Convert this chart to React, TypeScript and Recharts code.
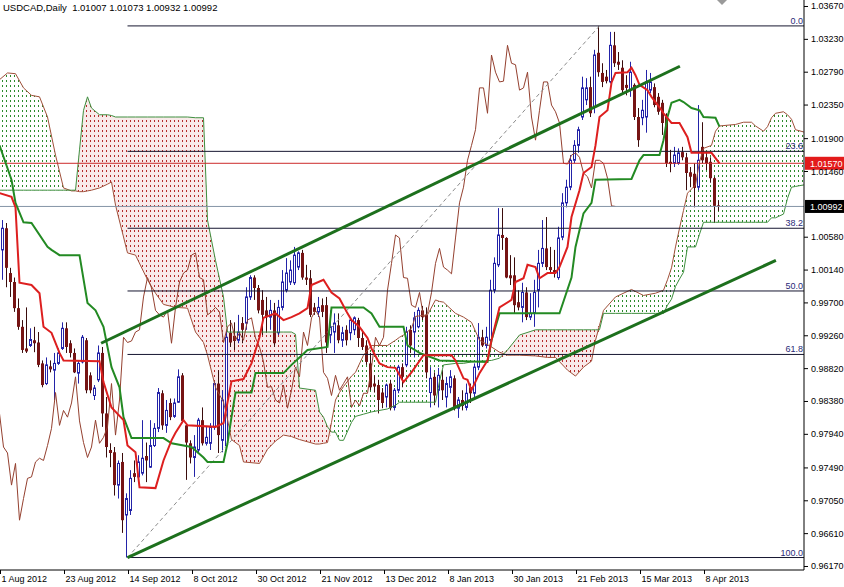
import { Area, Bar, ComposedChart, Line, ReferenceLine, XAxis, YAxis } from 'recharts';

const dateTicks = [0, 16, 32, 48, 64, 80, 96, 112, 128, 144, 160, 176];
const dateLabels = [
  '1 Aug 2012', '23 Aug 2012', '14 Sep 2012', '8 Oct 2012', '30 Oct 2012', '21 Nov 2012',
  '13 Dec 2012', '8 Jan 2013', '30 Jan 2013', '21 Feb 2013', '15 Mar 2013', '8 Apr 2013',
];

const priceTicks = [
  1.0367, 1.0323, 1.0279, 1.0235, 1.019, 1.0146, 1.0058, 1.0014, 0.997, 0.9926, 0.9882, 0.9838,
  0.9794, 0.9749, 0.9705, 0.9661, 0.9617,
];

// daily candles, bar index 0 = 1 Aug 2012
const opens = [
  1.0041, 1.0041, 1.0070, 1.0010, 0.9998, 0.9963, 0.9938, 0.9909, 0.9913, 0.9920,
  0.9917, 0.9889, 0.9862, 0.9885, 0.9880, 0.9889, 0.9909, 0.9936, 0.9916, 0.9903,
  0.9876, 0.9891, 0.9920, 0.9873, 0.9846, 0.9867, 0.9903, 0.9822, 0.9773, 0.9770,
  0.9726, 0.9757, 0.9686, 0.9692, 0.9742, 0.9737, 0.9742, 0.9765, 0.9750, 0.9779,
  0.9802, 0.9849, 0.9806, 0.9836, 0.9818, 0.9837, 0.9873, 0.9806, 0.9782, 0.9763,
  0.9773, 0.9813, 0.9782, 0.9782, 0.9804, 0.9862, 0.9786, 0.9779, 0.9930, 0.9926,
  0.9920, 0.9943, 0.9943, 0.9978, 1.0004, 0.9990, 0.9974, 0.9960, 0.9951, 0.9960,
  0.9930, 0.9964, 0.9987, 0.9998, 0.9997, 1.0018, 1.0037, 1.0004, 1.0003, 0.9964,
  0.9958, 0.9967, 0.9967, 0.9927, 0.9931, 0.9940, 0.9920, 0.9934, 0.9930, 0.9934,
  0.9947, 0.9923, 0.9913, 0.9889, 0.9862, 0.9860, 0.9850, 0.9844, 0.9862, 0.9830,
  0.9853, 0.9884, 0.9887, 0.9934, 0.9931, 0.9938, 0.9960, 0.9954, 0.9850, 0.9871,
  0.9853, 0.9867, 0.9844, 0.9857, 0.9869, 0.9829, 0.9840, 0.9830, 0.9857, 0.9849,
  0.9884, 0.9924, 0.9913, 0.9920, 0.9987, 1.0021, 1.0061, 1.0057, 1.0007, 1.0007,
  0.9971, 0.9964, 0.9984, 0.9951, 0.9956, 0.9987, 1.0023, 1.0043, 1.0018, 1.0014,
  1.0004, 1.0058, 1.0104, 1.0125, 1.0161, 1.0181, 1.0219, 1.0242, 1.0259, 1.0232,
  1.0305, 1.0278, 1.0273, 1.0266, 1.0315, 1.0293, 1.0285, 1.0262, 1.0255, 1.0262,
  1.0219, 1.0218, 1.0219, 1.0255, 1.0259, 1.0246, 1.0238, 1.0219, 1.0159, 1.0157,
  1.0157, 1.0172, 1.0165, 1.0145, 1.0143, 1.0125, 1.0179, 1.0165, 1.0159, 1.0137,
  1.01007,
];

const highs = [
  1.0074, 1.0081, 1.0077, 1.0017, 1.0004, 0.9976, 0.9947, 0.9964, 0.9936, 0.9938,
  0.9931, 0.9893, 0.9897, 0.9893, 0.9903, 0.9909, 0.9944, 0.9944, 0.9920, 0.9909,
  0.9893, 0.9927, 0.9923, 0.9877, 0.9860, 0.9913, 0.9911, 0.9844, 0.9782, 0.9777,
  0.9759, 0.9769, 0.9715, 0.9746, 0.9759, 0.9766, 0.9813, 0.9783, 0.9813, 0.9809,
  0.9856, 0.9853, 0.9840, 0.9842, 0.9842, 0.9881, 0.9876, 0.9809, 0.9786, 0.9793,
  0.9816, 0.9830, 0.9804, 0.9809, 0.9865, 0.9880, 0.9853, 0.9934, 0.9947, 0.9944,
  0.9954, 0.9951, 0.9991, 1.0007, 1.0007, 0.9994, 0.9987, 0.9978, 0.9974, 0.9970,
  0.9974, 1.0014, 1.0030, 1.0027, 1.0045, 1.0039, 1.0041, 1.0021, 1.0014, 0.9970,
  0.9978, 0.9976, 0.9978, 0.9960, 0.9956, 0.9956, 0.9938, 0.9940, 0.9950, 0.9952,
  0.9950, 0.9934, 0.9920, 0.9903, 0.9873, 0.9867, 0.9856, 0.9862, 0.9867, 0.9856,
  0.9887, 0.9889, 0.9938, 0.9940, 0.9958, 0.9964, 0.9966, 0.9964, 0.9884, 0.9877,
  0.9883, 0.9880, 0.9871, 0.9880, 0.9873, 0.9844, 0.9853, 0.9862, 0.9862, 0.9889,
  0.9943, 0.9934, 0.9938, 1.0001, 1.0031, 1.0097, 1.0097, 1.0058, 1.0034, 1.0031,
  0.9987, 0.9997, 0.9991, 0.9983, 1.0001, 1.0041, 1.0081, 1.0085, 1.0045, 1.0041,
  1.0072, 1.0117, 1.0135, 1.0168, 1.0188, 1.0206, 1.0273, 1.0271, 1.0273, 1.0309,
  1.0341, 1.0291, 1.0282, 1.0333, 1.0333, 1.0306, 1.0295, 1.0275, 1.0293, 1.0264,
  1.0231, 1.0242, 1.0282, 1.0278, 1.0264, 1.0251, 1.0242, 1.0224, 1.0175, 1.0179,
  1.0177, 1.0179, 1.0171, 1.0152, 1.0157, 1.0235, 1.0212, 1.0172, 1.0165, 1.0139,
  1.01073,
];

const lows = [
  1.0034, 1.0001, 0.9991, 0.9978, 0.9958, 0.9934, 0.9903, 0.9903, 0.9911, 0.9904,
  0.9884, 0.9857, 0.9860, 0.9877, 0.9840, 0.9887, 0.9907, 0.9903, 0.9897, 0.9876,
  0.9862, 0.9889, 0.9849, 0.9849, 0.9840, 0.9864, 0.9804, 0.9763, 0.9750, 0.9712,
  0.9708, 0.9662, 0.9629, 0.9686, 0.9730, 0.9733, 0.9739, 0.9730, 0.9749, 0.9777,
  0.9797, 0.9800, 0.9796, 0.9813, 0.9816, 0.9836, 0.9809, 0.9733, 0.9755, 0.9737,
  0.9770, 0.9779, 0.9779, 0.9773, 0.9800, 0.9769, 0.9770, 0.9773, 0.9911, 0.9907,
  0.9916, 0.9916, 0.9934, 0.9974, 0.9974, 0.9956, 0.9927, 0.9930, 0.9934, 0.9911,
  0.9927, 0.9960, 0.9984, 0.9994, 0.9994, 1.0014, 1.0001, 0.9994, 0.9951, 0.9954,
  0.9951, 0.9951, 0.9903, 0.9916, 0.9903, 0.9916, 0.9911, 0.9913, 0.9920, 0.9927,
  0.9911, 0.9907, 0.9887, 0.9853, 0.9850, 0.9822, 0.9829, 0.9830, 0.9826, 0.9826,
  0.9849, 0.9857, 0.9884, 0.9903, 0.9897, 0.9936, 0.9947, 0.9869, 0.9830, 0.9833,
  0.9830, 0.9840, 0.9830, 0.9849, 0.9826, 0.9816, 0.9826, 0.9826, 0.9836, 0.9844,
  0.9880, 0.9911, 0.9909, 0.9916, 0.9983, 1.0018, 1.0041, 1.0003, 0.9994, 0.9956,
  0.9960, 0.9944, 0.9947, 0.9947, 0.9938, 0.9964, 1.0018, 1.0014, 1.0010, 1.0004,
  1.0001, 1.0054, 1.0098, 1.0121, 1.0157, 1.0171, 1.0215, 1.0235, 1.0219, 1.0224,
  1.0273, 1.0259, 1.0264, 1.0264, 1.0286, 1.0282, 1.0251, 1.0248, 1.0246, 1.0215,
  1.0179, 1.0208, 1.0198, 1.0251, 1.0232, 1.0222, 1.0195, 1.0152, 1.0145, 1.0152,
  1.0155, 1.0161, 1.0121, 1.0125, 1.0098, 1.0121, 1.0157, 1.0148, 1.0131, 1.0077,
  1.00932,
];

const closes = [
  1.0065, 1.0070, 1.0017, 0.9998, 0.9963, 0.9938, 0.9907, 0.9905, 0.9921, 0.9916,
  0.9887, 0.9860, 0.9887, 0.9881, 0.9889, 0.9903, 0.9936, 0.9911, 0.9903, 0.9877,
  0.9889, 0.9924, 0.9853, 0.9853, 0.9856, 0.9903, 0.9822, 0.9777, 0.9769, 0.9726,
  0.9755, 0.9679, 0.9708, 0.9735, 0.9737, 0.9757, 0.9762, 0.9759, 0.9779, 0.9802,
  0.9850, 0.9806, 0.9826, 0.9817, 0.9836, 0.9871, 0.9812, 0.9783, 0.9763, 0.9777,
  0.9813, 0.9782, 0.9790, 0.9804, 0.9862, 0.9793, 0.9840, 0.9924, 0.9917, 0.9919,
  0.9931, 0.9934, 0.9978, 1.0004, 0.9990, 0.9960, 0.9954, 0.9951, 0.9960, 0.9916,
  0.9964, 0.9998, 1.0010, 1.0014, 1.0034, 1.0037, 1.0004, 1.0001, 0.9954, 0.9958,
  0.9964, 0.9958, 0.9917, 0.9938, 0.9943, 0.9920, 0.9930, 0.9920, 0.9947, 0.9950,
  0.9923, 0.9911, 0.9891, 0.9857, 0.9858, 0.9840, 0.9836, 0.9860, 0.9829, 0.9853,
  0.9884, 0.9871, 0.9931, 0.9913, 0.9950, 0.9960, 0.9951, 0.9877, 0.9869, 0.9846,
  0.9873, 0.9853, 0.9862, 0.9871, 0.9830, 0.9840, 0.9832, 0.9849, 0.9849, 0.9884,
  0.9924, 0.9913, 0.9924, 0.9987, 1.0023, 1.0061, 1.0057, 1.0004, 1.0003, 0.9967,
  0.9964, 0.9984, 0.9951, 0.9956, 0.9984, 1.0023, 1.0043, 1.0018, 1.0014, 1.0009,
  1.0057, 1.0104, 1.0125, 1.0161, 1.0181, 1.0202, 1.0258, 1.0258, 1.0224, 1.0302,
  1.0279, 1.0266, 1.0267, 1.0315, 1.0291, 1.0289, 1.0255, 1.0258, 1.0279, 1.0219,
  1.0188, 1.0228, 1.0266, 1.0266, 1.0235, 1.0226, 1.0211, 1.0157, 1.0156, 1.0168,
  1.0171, 1.0165, 1.0144, 1.0139, 1.0124, 1.0161, 1.0161, 1.0157, 1.0137, 1.0100,
  1.00992,
];

// ichimoku lines: [bar index, price]
const tenkan: [number, number][] = [
  [0, 1.0117], [3, 1.0112], [4, 1.0098], [5, 0.9997], [8, 0.9994], [10, 0.9983], [11, 0.9938],
  [13, 0.993], [15, 0.9903], [16, 0.9893], [25, 0.9892], [26, 0.9864], [28, 0.983], [31, 0.9813],
  [32, 0.9779], [34, 0.977], [35, 0.9723], [39, 0.9722], [41, 0.9759], [43, 0.9786], [44, 0.9796],
  [46, 0.9813], [47, 0.9806], [54, 0.9804], [56, 0.9809], [57, 0.9837], [58, 0.9865], [61, 0.9868],
  [63, 0.9889], [65, 0.9924], [66, 0.995], [69, 0.9956], [71, 0.9947], [73, 0.9951], [75, 0.9956],
  [77, 0.9963], [78, 0.9994], [81, 1.0001], [83, 0.9984], [85, 0.9976], [87, 0.9956], [88, 0.9947],
  [90, 0.9938], [92, 0.9923], [93, 0.9909], [95, 0.9889], [97, 0.9884], [99, 0.9883], [101, 0.9864],
  [103, 0.9877], [106, 0.99], [113, 0.99], [114, 0.9893], [116, 0.9869], [117, 0.9867], [118, 0.9853],
  [120, 0.9876], [122, 0.9893], [123, 0.992], [125, 0.9964], [128, 0.9974], [129, 0.9998], [131, 1.0003],
  [132, 1.0021], [134, 1.0018], [135, 1.0003], [137, 1.001], [139, 1.001], [140, 1.0018], [142, 1.0045],
  [143, 1.0085], [145, 1.0121], [146, 1.0144], [148, 1.0152], [149, 1.0181], [150, 1.0219], [152, 1.0228],
  [153, 1.0265], [154, 1.0278], [157, 1.0279], [158, 1.0285], [159, 1.0275], [160, 1.0262], [162, 1.0255],
  [163, 1.0246], [165, 1.0232], [166, 1.0224], [168, 1.0211], [170, 1.0211], [172, 1.0192], [173, 1.0171],
  [178, 1.0171], [180, 1.0157],
];

const kijun: [number, number][] = [
  [0, 1.0181], [3, 1.0135], [4, 1.0104], [6, 1.0078], [8, 1.0077], [12, 1.0045], [13, 1.0041],
  [15, 1.0034], [20, 1.0034], [22, 0.997], [24, 0.996], [26, 0.9938], [28, 0.9884], [30, 0.9857],
  [31, 0.9817], [33, 0.9789], [41, 0.9789], [43, 0.9782], [48, 0.9777], [51, 0.9763], [52, 0.9757],
  [56, 0.9757], [57, 0.9782], [58, 0.9817], [59, 0.985], [63, 0.985], [64, 0.9876], [71, 0.9876],
  [73, 0.9887], [75, 0.9897], [77, 0.9907], [82, 0.9911], [83, 0.9964], [91, 0.9964], [93, 0.9956],
  [95, 0.9938], [101, 0.9938], [102, 0.9913], [105, 0.9903], [110, 0.9893], [122, 0.9891], [123, 0.992],
  [125, 0.9956], [140, 0.9956], [143, 1.0004], [144, 1.0045], [146, 1.009], [148, 1.0104], [149, 1.0135],
  [158, 1.0136], [160, 1.0161], [161, 1.0168], [165, 1.0168], [166, 1.0188], [167, 1.0219], [168, 1.0238],
  [170, 1.0242], [171, 1.0239], [173, 1.0231], [175, 1.0228], [176, 1.0219], [179, 1.0218], [180, 1.0206],
];

const cloudIdx = [
  0, 2, 4, 6, 8, 10, 12, 14, 16, 18, 19, 20, 21, 22, 23, 25, 27, 28, 29, 32, 34, 37, 39, 41, 44, 47,
  49, 51, 52, 54, 56, 57, 58, 60, 61, 65, 67, 69, 71, 73, 74, 75, 79, 80, 81, 82, 83, 84, 85, 86, 88,
  89, 91, 93, 97, 99, 100, 101, 103, 104, 107, 109, 110, 111, 114, 116, 118, 120, 123, 125, 127, 130,
  134, 137, 139, 142, 144, 146, 148, 149, 150, 151, 154, 158, 161, 164, 166, 167, 168, 169, 170, 171,
  172, 174, 175, 176, 178, 179, 180, 184, 186, 188, 189, 191, 192, 193, 194, 196, 197, 198, 199, 201, 203,
];
const spanA = [
  1.0269, 1.0278, 1.0277, 1.0258, 1.0248, 1.0246, 1.0219, 1.0168, 1.0124, 1.012, 1.012, 1.0119, 1.0119,
  1.012, 1.0121, 1.0124, 1.0129, 1.0132, 1.0101, 1.0037, 1.0034, 1.0001, 0.9983, 0.9968, 0.9964, 0.9963,
  0.9931, 0.9917, 0.99, 0.9857, 0.9837, 0.9814, 0.9787, 0.9779, 0.9757, 0.9755, 0.9774, 0.9785, 0.9793,
  0.9791, 0.9789, 0.9787, 0.9781, 0.9781, 0.9782, 0.9783, 0.981, 0.984, 0.985, 0.9858, 0.9872, 0.9877,
  0.99, 0.9913, 0.9913, 0.992, 0.9924, 0.9927, 0.9936, 0.9952, 0.9954, 0.9974, 0.9972, 0.9971, 0.9956,
  0.9951, 0.9944, 0.992, 0.9911, 0.9904, 0.99, 0.99, 0.9899, 0.9897, 0.9897, 0.988, 0.9872, 0.9884,
  0.9892, 0.992, 0.994, 0.996, 0.9978, 0.9988, 0.998, 0.9983, 0.9987, 1.0001, 1.0017, 1.0045, 1.007,
  1.0094, 1.0117, 1.0128, 1.0159, 1.0177, 1.0181, 1.02, 1.0207, 1.0209, 1.0212, 1.0212, 1.0207, 1.02,
  1.0206, 1.0218, 1.0224, 1.0226, 1.0222, 1.0216, 1.0202, 1.0199, 1.0195,
];
const spanB = [
  1.0121, 1.0121, 1.0121, 1.0121, 1.0121, 1.0121, 1.0121, 1.0121, 1.0121, 1.0121, 1.0121, 1.0175, 1.0228,
  1.0246, 1.0231, 1.0222, 1.0222, 1.0221, 1.0219, 1.0219, 1.0219, 1.0219, 1.0219, 1.0219, 1.0219, 1.0219,
  1.0218, 1.0218, 1.0081, 1.0027, 0.9978, 0.9931, 0.9931, 0.9931, 0.9931, 0.9931, 0.9931, 0.9931, 0.9931,
  0.9931, 0.9928, 0.9856, 0.9853, 0.9824, 0.9817, 0.9804, 0.9797, 0.9797, 0.9786, 0.9786, 0.981, 0.9818,
  0.9821, 0.9824, 0.9828, 0.9833, 0.9837, 0.9837, 0.9837, 0.9837, 0.9837, 0.9837, 0.9865, 0.9887, 0.9889,
  0.9889, 0.9891, 0.9892, 0.9893, 0.9896, 0.9907, 0.9927, 0.9934, 0.9934, 0.9934, 0.9934, 0.9934, 0.9934,
  0.9934, 0.9934, 0.9934, 0.9956, 0.9956, 0.9956, 0.9956, 0.9956, 0.9956, 0.9967, 0.9975, 0.9992, 1.0002,
  1.0011, 1.0045, 1.0045, 1.0062, 1.0078, 1.0078, 1.0078, 1.0078, 1.0078, 1.0078, 1.0078, 1.0078, 1.0078,
  1.0078, 1.0084, 1.0084, 1.0089, 1.011, 1.0125, 1.0126, 1.0128, 1.0128,
];
const chikouShift = 26;

const fibLevels = [1.0341, 1.0173, 1.007, 0.9986, 0.9901, 0.9629];
const fibLabels = ['0.0', '23.6', '38.2', '50.0', '61.8', '100.0'];
const fibStart = 32;
const fibDiagonal = [{ x: 32, y: 0.9629 }, { x: 150, y: 1.0341 }];
const upperChannel = [{ x: 25.4, y: 0.9916 }, { x: 170.1, y: 1.0287 }];
const lowerChannel = [{ x: 32, y: 0.9629 }, { x: 194.1, y: 1.0027 }];
const alertLevel = 1.0157;
const lastPrice = 1.00992;

const xDomain: [number, number] = [0.125, 201.125];
const yDomain: [number, number] = [0.96123, 1.03757];

const axisFont = '"Liberation Sans", Arial, sans-serif';
const bullColor = '#2323a8';
const bearBody = '#761414';
const bearWick = '#3a0c0c';
const tenkanColor = '#dd1f1f';
const kijunColor = '#238a23';
const chikouColor = '#94402f';
const trendColor = '#1d701d';
const fibColor = '#161630';

const candleRows = opens.map((open, i) => ({ i, open, high: highs[i], low: lows[i], close: closes[i] }));
const tenkanRows = tenkan.map(([i, v]) => ({ i, v }));
const kijunRows = kijun.map(([i, v]) => ({ i, v }));
const chikouRows = closes.slice(chikouShift).map((v, k) => ({ i: k, v }));
const spanARows = cloudIdx.map((i, k) => ({ i, v: spanA[k] }));
const spanBRows = cloudIdx.map((i, k) => ({ i, v: spanB[k] }));

const bullish = (k: number) => spanA[k] >= spanB[k];
function kumo(wantUp: boolean) {
  return cloudIdx.map((i, k) => {
    const hit = (n: number) => n >= 0 && n < cloudIdx.length && bullish(n) === wantUp;
    const on = hit(k) || hit(k - 1) || hit(k + 1);
    return { i, range: on ? [Math.min(spanA[k], spanB[k]), Math.max(spanA[k], spanB[k])] : null };
  });
}
const kumoUp = kumo(true);
const kumoDown = kumo(false);

function Candle(props: any) {
  const { x, y, width, height, payload } = props;
  if (!payload || x == null || y == null || height == null) return null;
  const top = Math.min(y, y + height);
  const span = Math.abs(height);
  const range = payload.high - payload.low || 1e-6;
  const toY = (v: number) => top + ((payload.high - v) / range) * span;
  const cx = Math.round(x + width / 2) - 0.5;
  const yOpen = toY(payload.open);
  const yClose = toY(payload.close);
  const bodyTop = Math.min(yOpen, yClose);
  const bodyH = Math.max(Math.abs(yClose - yOpen), 1);
  if (payload.close >= payload.open) {
    return (
      <g>
        <line x1={cx} x2={cx} y1={top} y2={top + span} stroke={bullColor} strokeWidth={1} />
        <rect x={cx - 1} y={bodyTop} width={2} height={bodyH} fill="#ffffff" stroke={bullColor} strokeWidth={1} />
      </g>
    );
  }
  return (
    <g>
      <line x1={cx} x2={cx} y1={top} y2={top + span} stroke={bearWick} strokeWidth={1} />
      <rect x={cx - 1.5} y={bodyTop} width={3} height={bodyH} fill={bearBody} />
    </g>
  );
}

function DateTick(props: any) {
  const { x, y, payload } = props;
  const k = dateTicks.indexOf(payload.value);
  return (
    <g>
      <line x1={Math.round(x) + 0.5} x2={Math.round(x) + 0.5} y1={y} y2={y + 4} stroke="#000" />
      <text x={x + 2} y={y + 12} fontSize={9} fontFamily={axisFont} fill="#000">
        {dateLabels[k]}
      </text>
    </g>
  );
}

function PriceTick(props: any) {
  const { x, y, payload } = props;
  return (
    <text x={x} y={y + 3} fontSize={9} fontFamily={axisFont} fill="#000">
      {Number(payload.value).toFixed(5)}
    </text>
  );
}

function FibLabel(props: any) {
  const vb = props.viewBox || {};
  return (
    <text x={(vb.x || 0) + (vb.width || 0) - 1} y={(vb.y || 0) - 2} textAnchor="end" fontSize={9} fontFamily={axisFont} fill="#2a2a78">
      {props.text}
    </text>
  );
}

function PriceTag(props: any) {
  const vb = props.viewBox || {};
  const right = (vb.x || 0) + (vb.width || 0);
  const y = vb.y || 0;
  return (
    <g>
      <rect x={right + 1} y={y - 6.5} width={40} height={13} fill={props.bg} />
      <text x={right + 6} y={y + 3.5} fontSize={9} fontFamily={axisFont} fill="#ffffff">
        {props.text}
      </text>
    </g>
  );
}

export default function App() {
  return (
    <div style={{ position: 'absolute', left: 0, top: 0, width: 844, height: 587, background: '#ffffff' }}>
      <ComposedChart width={844} height={587} data={candleRows} margin={{ top: 0, right: 0, bottom: 0, left: 0 }}>
        <defs>
          <pattern id="kumoUp" x="0" y="0" width="4" height="5" patternUnits="userSpaceOnUse">
            <rect x="2" y="0" width="1" height="2" fill="#2c8a2c" />
          </pattern>
          <pattern id="kumoDown" x="0" y="0" width="4" height="5" patternUnits="userSpaceOnUse">
            <rect x="0" y="0" width="4" height="5" fill="#f9eaea" />
            <rect x="2" y="0" width="1" height="2" fill="#b42a2a" />
          </pattern>
        </defs>
        <XAxis
          type="number"
          dataKey="i"
          domain={xDomain}
          allowDataOverflow
          ticks={dateTicks}
          interval={0}
          height={17}
          tickSize={0}
          tickMargin={0}
          tickLine={false}
          axisLine={{ stroke: '#000' }}
          tick={<DateTick />}
        />
        <YAxis
          type="number"
          orientation="right"
          domain={yDomain}
          allowDataOverflow
          ticks={priceTicks}
          interval={0}
          width={40}
          tickSize={4}
          tickMargin={3}
          tickLine={{ stroke: '#000' }}
          axisLine={{ stroke: '#000' }}
          tick={<PriceTick />}
        />
        <Area data={kumoUp} dataKey="range" type="linear" stroke="none" fill="url(#kumoUp)" fillOpacity={1} activeDot={false} isAnimationActive={false} />
        <Area data={kumoDown} dataKey="range" type="linear" stroke="none" fill="url(#kumoDown)" fillOpacity={1} activeDot={false} isAnimationActive={false} />
        <Line data={spanARows} dataKey="v" type="linear" stroke="#a0503a" strokeWidth={1} dot={false} activeDot={false} isAnimationActive={false} />
        <Line data={spanBRows} dataKey="v" type="linear" stroke="#3f8f3f" strokeWidth={1} dot={false} activeDot={false} isAnimationActive={false} />
        <Line data={chikouRows} dataKey="v" type="linear" stroke={chikouColor} strokeWidth={1} dot={false} activeDot={false} isAnimationActive={false} />
        <ReferenceLine y={lastPrice} stroke="#8494a6" strokeWidth={1} ifOverflow="visible" label={<PriceTag text="1.00992" bg="#000000" />} />
        <ReferenceLine y={alertLevel} stroke="#cc2b2b" strokeWidth={1} ifOverflow="visible" label={<PriceTag text="1.01570" bg="#e31b1b" />} />
        {fibLevels.map((level, k) => (
          <ReferenceLine
            key={fibLabels[k]}
            segment={[{ x: fibStart, y: level }, { x: xDomain[1], y: level }]}
            stroke={fibColor}
            strokeWidth={1}
            ifOverflow="visible"
            label={<FibLabel text={fibLabels[k]} />}
          />
        ))}
        <ReferenceLine segment={fibDiagonal} stroke="#8c8c8c" strokeWidth={1} strokeDasharray="4 3" ifOverflow="visible" />
        <Bar dataKey={(d: any) => [d.low, d.high]} barSize={4} shape={<Candle />} activeBar={false} isAnimationActive={false} />
        <Line data={kijunRows} dataKey="v" type="linear" stroke={kijunColor} strokeWidth={2} dot={false} activeDot={false} isAnimationActive={false} />
        <Line data={tenkanRows} dataKey="v" type="linear" stroke={tenkanColor} strokeWidth={2} dot={false} activeDot={false} isAnimationActive={false} />
        <ReferenceLine segment={upperChannel} stroke={trendColor} strokeWidth={3} ifOverflow="visible" />
        <ReferenceLine segment={lowerChannel} stroke={trendColor} strokeWidth={3} ifOverflow="visible" />
      </ComposedChart>
      <svg width={12} height={6} style={{ position: 'absolute', left: 716, top: 0 }}>
        <polygon points="1,0 11,0 6,5" fill="#9a9a9a" />
      </svg>
      <div
        style={{
          position: 'absolute',
          left: 3,
          top: 2,
          fontSize: 9.5,
          lineHeight: '12px',
          fontFamily: axisFont,
          whiteSpace: 'pre',
          color: '#000',
        }}
      >
        {'USDCAD,Daily  1.01007 1.01073 1.00932 1.00992'}
      </div>
    </div>
  );
}
